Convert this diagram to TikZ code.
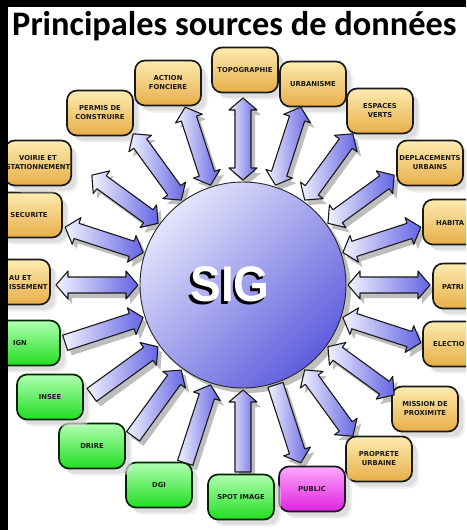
\documentclass[tikz,border=0pt]{standalone}
\usepackage{fontspec}
\setmainfont{Liberation Sans}
\newfontfamily\titlefont{Carlito}
\newfontfamily\boxfont{DejaVu Sans}
\usetikzlibrary{calc,shadows}

\definecolor{boxtop}{HTML}{FCEBB0}
\definecolor{boxbot}{HTML}{E8AE48}
\definecolor{grtop}{HTML}{B0FFB0}
\definecolor{grbot}{HTML}{22DD22}
\definecolor{magtop}{HTML}{FFA8FF}
\definecolor{magbot}{HTML}{DD22DD}
\definecolor{arrlight}{HTML}{F2F2FF}
\definecolor{arrdark}{HTML}{6464E4}
\definecolor{siglight}{HTML}{E4E4FB}
\definecolor{sigdark}{HTML}{5E5EDE}
\definecolor{shadowgrey}{HTML}{BEBEBE}

% #1 mode (0 shadow, 1 body), #2 from, #3 to, #4 kind (d double, s single head at #3)
\newcommand{\sigarrow}[4]{%
  \pgfpointdiff{\pgfpointanchor{#2}{center}}{\pgfpointanchor{#3}{center}}%
  \pgfgetlastxy{\bax}{\bay}%
  \pgfmathsetmacro{\bang}{atan2(\bay,\bax)}%
  \pgfmathsetmacro{\blen}{veclen(\bax,\bay)}%
  \pgfmathsetmacro{\bhl}{\blen-12}%
  \if d#4
    \def\bpath{(0pt,0pt) -- (12pt,14pt) -- (12pt,8pt) -- (\bhl pt,8pt) -- (\bhl pt,14pt) -- (\blen pt,0pt) -- (\bhl pt,-14pt) -- (\bhl pt,-8pt) -- (12pt,-8pt) -- (12pt,-14pt) -- cycle}%
  \else
    \def\bpath{(0pt,8pt) -- (\bhl pt,8pt) -- (\bhl pt,14pt) -- (\blen pt,0pt) -- (\bhl pt,-14pt) -- (\bhl pt,-8pt) -- (0pt,-8pt) -- cycle}%
  \fi
  \ifnum#1=0
    \begin{scope}[shift={(#2)}, xshift=4pt, yshift=-5pt, rotate=\bang]
      \fill[shadowgrey] \bpath;
    \end{scope}
  \else
    \begin{scope}[shift={(#2)}, rotate=\bang]
      \draw[arrowbody] \bpath;
    \end{scope}
  \fi
}

\begin{document}
\begin{tikzpicture}[x=1pt, y=-1pt,
  src/.style={rounded corners=10pt, minimum width=66pt, minimum height=45pt,
    line width=1.7pt, draw=black!90, inner sep=1pt, align=center,
    font=\boxfont\bfseries\fontsize{6.8}{9}\selectfont, text=black!90,
    drop shadow={shadow xshift=7pt, shadow yshift=-7pt, fill=black!10},
    drop shadow={shadow xshift=5pt, shadow yshift=-5pt, fill=black!20}},
  orng/.style={src, top color=boxtop, bottom color=boxbot},
  grn/.style={src, top color=grtop, bottom color=grbot, draw=black!75!green!60!black},
  mag/.style={src, top color=magtop, bottom color=magbot},
  lbl/.style={font=\boxfont\bfseries\fontsize{6.8}{9}\selectfont, text=black!90, inner sep=0pt, align=left},
  arrowbody/.style={draw=black!90, line width=1.1pt, line join=round,
    left color=arrlight, right color=arrdark},
]
\useasboundingbox (0,0) rectangle (466,530);
\begin{scope}
\clip (0,0) rectangle (466,530);
\fill[white] (0,0) rectangle (466,530);

\coordinate (sigc) at (243,285);

% arrow end points (circle side a, box side b)
\foreach \n/\ang in {topo/-90, urb/-72, esp/-54, dep/-36, hab/-18, pat/0, ele/18,
  mis/36, pro/54, pub/72, spot/90, dgi/108, dri/126, ins/144, ign/162, eau/180,
  sec/-162, voi/-144, per/-126, act/-108}{
  \coordinate (a\n) at ($(sigc)+(\ang:105)$);
  \coordinate (b\n) at ($(sigc)+(\ang:187)$);
}

% circle shadow
\fill[shadowgrey] ($(sigc)+(5,5)$) circle (103pt);

% arrow shadows
\foreach \f/\t/\k in {atopo/btopo/d, aurb/burb/d, aesp/besp/d, adep/bdep/d, ahab/bhab/d,
  apat/bpat/d, aele/bele/d, amis/bmis/d, apro/bpro/d, apub/bpub/s, bspot/aspot/s,
  bdgi/adgi/s, bdri/adri/s, bins/ains/s, bign/aign/s, aeau/beau/d, asec/bsec/d,
  avoi/bvoi/d, aper/bper/d, aact/bact/d}{
  \sigarrow{0}{\f}{\t}{\k}
}

% boxes
\node[orng] (topo) at (245,70) {TOPOGRAPHIE};
\node[orng] (urb) at (313,84) {URBANISME};
\node[orng] (esp) at (380,111) {ESPACES\\VERTS};
\node[orng] (dep) at (430,163) {DEPLACEMENTS\\URBAINS};
\node[orng] (hab) at (456,222) {};
\node[lbl, anchor=west] (habt) at (436,223) {HABITA};
\node[orng] (pat) at (466,286) {};
\node[lbl, anchor=west] (patt) at (442,287) {PATRI};
\node[orng] (ele) at (456,344) {};
\node[lbl, anchor=west] (elet) at (433,344) {ELECTIO};
\node[orng] (mis) at (425,409) {MISSION DE\\PROXIMITE};
\node[orng] (pro) at (379,459) {PROPRETE\\URBAINE};
\node[mag] (pub) at (312,489) {PUBLIC};
\node[grn] (spot) at (241,497) {SPOT IMAGE};
\node[grn] (dgi) at (159,485) {DGI};
\node[grn] (dri) at (92,446) {DRIRE};
\node[grn] (ins) at (50,397) {INSEE};
\node[grn] (ign) at (27,343) {};
\node[lbl] (ignt) at (20,343) {IGN};
\node[orng] (eau) at (17,282) {};
\node[lbl, anchor=west] (eaut1) at (9,278) {AU ET};
\node[lbl, anchor=west] (eaut2) at (9,287) {ISSEMENT};
\node[orng] (sec) at (29,215) {SECURITE};
\node[orng] (voi) at (38,163) {VOIRIE ET\\STATIONNEMENT};
\node[orng] (per) at (100,113) {PERMIS DE\\CONSTRUIRE};
\node[orng] (act) at (168,83) {ACTION\\FONCIERE};

% arrows
\foreach \f/\t/\k in {atopo/btopo/d, aurb/burb/d, aesp/besp/d, adep/bdep/d, ahab/bhab/d,
  apat/bpat/d, aele/bele/d, amis/bmis/d, apro/bpro/d, apub/bpub/s, bspot/aspot/s,
  bdgi/adgi/s, bdri/adri/s, bins/ains/s, bign/aign/s, aeau/beau/d, asec/bsec/d,
  avoi/bvoi/d, aper/bper/d, aact/bact/d}{
  \sigarrow{1}{\f}{\t}{\k}
}

% central circle
\node[circle, minimum size=206pt, draw=black!85, line width=0.9pt,
  top color=siglight, bottom color=sigdark, shading angle=45] (sig) at (sigc) {};
\node[font=\bfseries\fontsize{50}{50}\selectfont, text=black, xscale=0.92] (sigsh) at (227.5,287) {SIG};
\node[font=\bfseries\fontsize{50}{50}\selectfont, text=white, xscale=0.92] (sigt) at (230,284) {SIG};

% title
\node[font=\titlefont\bfseries\fontsize{34.4}{34.4}\selectfont, anchor=base west, inner sep=0pt] (title) at (12,35) {Principales sources de données};

% black frame strips
\fill[black] (0,0) rectangle (466,7);
\fill[black] (0,0) rectangle (8,530);
\end{scope}
\end{tikzpicture}
\end{document}
